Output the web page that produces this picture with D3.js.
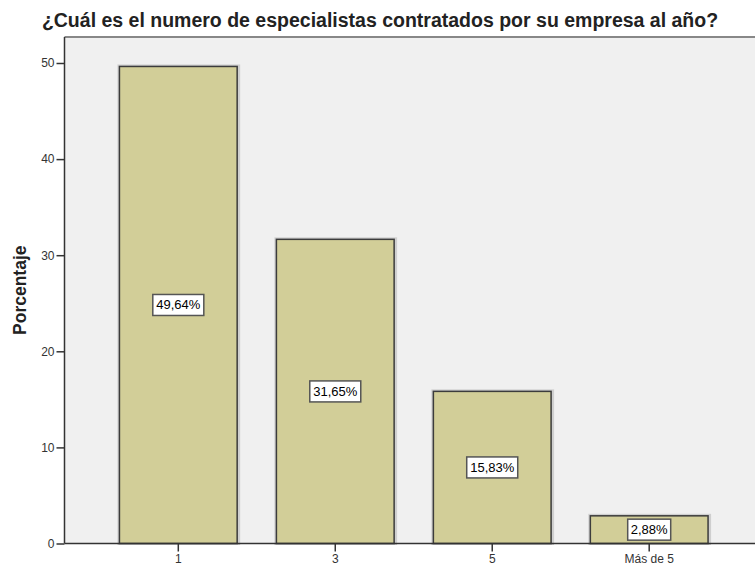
<!DOCTYPE html>
<html>
<head>
<meta charset="utf-8">
<script src="https://cdn.jsdelivr.net/npm/d3@7"></script>
<style>
  body { margin: 0; background: #fff; }
  text { font-family: "Liberation Sans", Arial, sans-serif; }
</style>
</head>
<body>
<script>
var categories = ['1', '3', '5', 'Más de 5'];
var values = [49.64, 31.65, 15.83, 2.88];
var labels = ['49,64%', '31,65%', '15,83%', '2,88%'];
var yTicks = [0, 10, 20, 30, 40, 50];

var w = 755;
var h = 568;
var mLeft = 64.5, mTop = 37, mBottom = 543.5, mRight = 763;

var svg = d3.select('body').append('svg')
  .attr('width', w)
  .attr('height', h);

/* ===== scales ===== */

var xScale = d3.scaleBand()
  .domain(categories)
  .range([mLeft, mRight])
  .paddingInner(0.25)
  .paddingOuter(0.35);

var yScale = d3.scaleLinear()
  .domain([0, 50])
  .range([mBottom, mBottom - 480.5]);

/* ===== plot background ===== */

svg.append('rect')
  .attr('x', mLeft)
  .attr('y', mTop)
  .attr('width', mRight - mLeft)
  .attr('height', mBottom - mTop)
  .attr('fill', '#f0f0f0');

svg.append('line')
  .attr('x1', mLeft).attr('x2', mRight)
  .attr('y1', mTop).attr('y2', mTop)
  .attr('stroke', '#888').attr('stroke-width', 2);

/* ===== bars ===== */

var data = categories.map(function(c, i) {
  return { cat: c, val: values[i], label: labels[i] };
});

// soft shadow
svg.selectAll('.shadow').data(data).enter()
  .append('rect')
  .attr('class', 'shadow')
  .attr('x', function(d) { return xScale(d.cat) - 0.5; })
  .attr('y', function(d) { return yScale(d.val) - 0.5; })
  .attr('width', xScale.bandwidth() + 2)
  .attr('height', function(d) { return mBottom - yScale(d.val) + 0.5; })
  .attr('fill', 'none')
  .attr('stroke', '#cfcfcf')
  .attr('stroke-width', 3);

svg.selectAll('.bar').data(data).enter()
  .append('rect')
  .attr('class', 'bar')
  .attr('x', function(d) { return xScale(d.cat); })
  .attr('y', function(d) { return yScale(d.val); })
  .attr('width', xScale.bandwidth())
  .attr('height', function(d) { return mBottom - yScale(d.val); })
  .attr('fill', '#d2ce98')
  .attr('stroke', '#3c3c3c')
  .attr('stroke-width', 1.5);

/* ===== value labels ===== */

var lab = svg.selectAll('.lab').data(data).enter()
  .append('g')
  .attr('class', 'lab')
  .attr('transform', function(d) {
    var cx = xScale(d.cat) + xScale.bandwidth() / 2;
    var cy = (yScale(d.val) + mBottom) / 2;
    return 'translate(' + cx + ',' + cy + ')';
  });

lab.append('rect')
  .attr('x', function(d) { return d.label.length > 5 ? -25.5 : -21.5; })
  .attr('y', -10.5)
  .attr('width', function(d) { return d.label.length > 5 ? 51 : 43; })
  .attr('height', 21)
  .attr('fill', '#fff')
  .attr('stroke', '#555')
  .attr('stroke-width', 1.5);

lab.append('text')
  .attr('text-anchor', 'middle')
  .attr('y', 4.5)
  .attr('font-size', 13)
  .attr('fill', '#000')
  .text(function(d) { return d.label; });

/* ===== axes ===== */

var xAxis = d3.axisBottom(xScale).tickSize(8).tickPadding(3);
var yAxis = d3.axisLeft(yScale).tickValues(yTicks).tickSize(8).tickPadding(2);

var gx = svg.append('g')
  .attr('transform', 'translate(0,' + mBottom + ')')
  .call(xAxis);
gx.select('.domain').attr('d', 'M' + mLeft + ',0H' + mRight).attr('stroke', '#333').attr('stroke-width', 1.5);

var gy = svg.append('g')
  .attr('transform', 'translate(' + mLeft + ',0)')
  .call(yAxis);
gy.select('.domain').attr('d', 'M0,' + mTop + 'V' + mBottom).attr('stroke', '#333').attr('stroke-width', 1.5);

svg.selectAll('.tick line').attr('stroke', '#333').attr('stroke-width', 1.5);
svg.selectAll('.tick text')
  .attr('font-family', '"Liberation Sans", Arial, sans-serif')
  .attr('font-size', 12)
  .attr('fill', '#333');

/* ===== titles ===== */

svg.append('text')
  .attr('x', 380)
  .attr('y', 27)
  .attr('text-anchor', 'middle')
  .attr('font-size', 19.5)
  .attr('font-weight', 'bold')
  .attr('fill', '#222')
  .text('¿Cuál es el numero de especialistas contratados por su empresa al año?');

svg.append('text')
  .attr('transform', 'translate(26,' + ((mTop + mBottom) / 2) + ') rotate(-90)')
  .attr('text-anchor', 'middle')
  .attr('font-size', 17.5)
  .attr('font-weight', 'bold')
  .attr('fill', '#222')
  .text('Porcentaje');
</script>
</body>
</html>
